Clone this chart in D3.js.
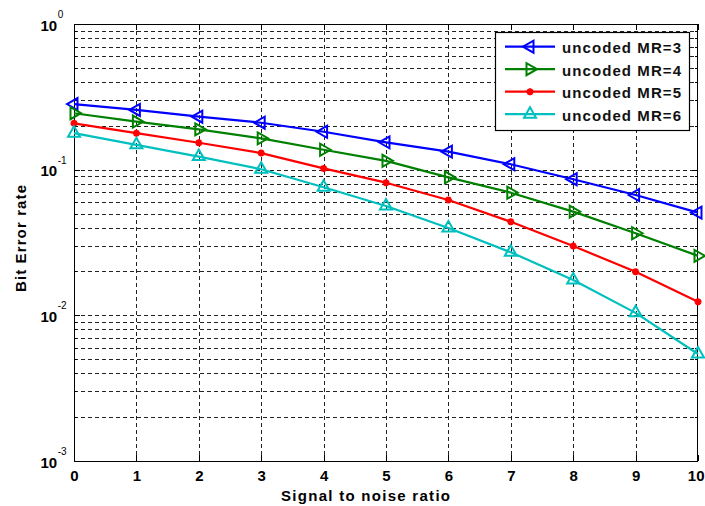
<!DOCTYPE html>
<html><head><meta charset="utf-8">
<script src="https://cdn.jsdelivr.net/npm/d3@7"></script>
<style>body{margin:0;background:#fff;} svg{display:block;}</style>
</head><body>
<svg id="chart" width="705" height="506"></svg>
<script>
// ---- data ----
const snr = [0, 1, 2, 3, 4, 5, 6, 7, 8, 9, 10];
const berMR3 = [0.282, 0.257, 0.231, 0.210, 0.182, 0.154, 0.133, 0.109, 0.086, 0.067, 0.0507];
const berMR4 = [0.244, 0.214, 0.189, 0.164, 0.137, 0.115, 0.0886, 0.0695, 0.0515, 0.0366, 0.0256];
const berMR5 = [0.208, 0.178, 0.153, 0.130, 0.102, 0.0814, 0.0619, 0.0439, 0.0299, 0.0199, 0.0124];
const berMR6 = [0.178, 0.148, 0.123, 0.1006, 0.0757, 0.0563, 0.0398, 0.0271, 0.0175, 0.0104, 0.00543];
const seriesNames = ["uncoded MR=3", "uncoded MR=4", "uncoded MR=5", "uncoded MR=6"];
const xTickValues = [0, 1, 2, 3, 4, 5, 6, 7, 8, 9, 10];
const yDecades = [1, 0.1, 0.01, 0.001];
const yExponents = ["0", "-1", "-2", "-3"];
const xLabel = "Signal to noise ratio";
const yLabel = "Bit Error rate";

// ---- styles ----
const colors = ["#0000ff", "#008000", "#ff0000", "#00bfbf"];
const markers = ["left", "right", "star", "up"];
const FONT = "'Liberation Sans', Arial, Helvetica, sans-serif";

const series = seriesNames.map((n, i) => ({
  name: n, values: [berMR3, berMR4, berMR5, berMR6][i], color: colors[i], marker: markers[i]
}));

const svg = d3.select("#chart");
const L = 74, R = 698, T = 24, B = 461;
const x = d3.scaleLinear().domain([0, 10]).range([L, R]);
const y = d3.scaleLog().domain([0.001, 1]).range([B, T]);

const minors = [];
[0.001, 0.01, 0.1].forEach(d => { for (let k = 2; k <= 9; k++) minors.push(k * d); });

// background
svg.append("rect").attr("x", 0).attr("y", 0).attr("width", 705).attr("height", 506).attr("fill", "#fff");

// grid
const grid = svg.append("g").attr("stroke", "#222").attr("stroke-width", 1).attr("stroke-dasharray", "4,3").attr("shape-rendering", "crispEdges");
grid.selectAll("line.h").data(minors.concat([0.1, 0.01])).join("line")
  .attr("x1", L).attr("x2", R).attr("y1", d => Math.round(y(d)) + 0.5).attr("y2", d => Math.round(y(d)) + 0.5);
grid.selectAll("line.v").data(xTickValues.filter(v => v > 0 && v < 10)).join("line")
  .attr("y1", T).attr("y2", B).attr("x1", d => Math.round(x(d)) + 0.5).attr("x2", d => Math.round(x(d)) + 0.5);

// axes (ticks inside)
function styleAxis(g) {
  g.select(".domain").remove();
  g.selectAll(".tick line").attr("stroke", "#000").attr("shape-rendering", "crispEdges");
}
svg.append("g").attr("transform", `translate(${L},0)`)
  .call(d3.axisLeft(y).tickValues(yDecades).tickSize(-6).tickFormat("")).call(styleAxis);
svg.append("g").attr("transform", `translate(${L},0)`)
  .call(d3.axisLeft(y).tickValues(minors).tickSize(-3).tickFormat("")).call(styleAxis);
svg.append("g").attr("transform", `translate(${R},0)`)
  .call(d3.axisRight(y).tickValues(yDecades).tickSize(-6).tickFormat("")).call(styleAxis);
svg.append("g").attr("transform", `translate(${R},0)`)
  .call(d3.axisRight(y).tickValues(minors).tickSize(-3).tickFormat("")).call(styleAxis);
svg.append("g").attr("transform", `translate(0,${T})`)
  .call(d3.axisTop(x).tickValues(xTickValues).tickSize(-6).tickFormat("")).call(styleAxis);
const xAx = svg.append("g").attr("transform", `translate(0,${B})`)
  .call(d3.axisBottom(x).tickValues(xTickValues).tickSize(-6).tickPadding(9).tickFormat(d3.format("d")));
styleAxis(xAx);
xAx.selectAll(".tick text").attr("font-family", FONT).attr("font-size", 15).attr("font-weight", "bold").attr("fill", "#000");
// keep the last label inside the window
xAx.selectAll(".tick text").filter(d => d === 10).attr("text-anchor", "end").attr("x", 6);

// y tick labels with superscripts
const yl = svg.append("g").attr("font-family", FONT).attr("fill", "#000");
yDecades.forEach((d, i) => {
  const t = yl.append("text").attr("x", 40.5).attr("y", y(d) + 6.5);
  t.append("tspan").attr("font-size", 15).attr("font-weight", "bold").text("10");
  t.append("tspan").attr("font-size", 10).attr("dx", 0.5).attr("dy", -12.5).text(yExponents[i]);
});

// frame
svg.append("rect").attr("x", L + 0.5).attr("y", T + 0.5).attr("width", R - L - 1).attr("height", B - T)
  .attr("fill", "none").attr("stroke", "#000").attr("stroke-width", 1.2).attr("shape-rendering", "crispEdges");

// markers
function markerPath(type) {
  switch (type) {
    case "left": return "M-7,0L3.5,-6L3.5,6Z";
    case "right": return "M7,0L-3.5,-6L-3.5,6Z";
    case "up": return "M0,-7L-6,3.5L6,3.5Z";
    case "star": return "M-3.5,0L3.5,0M0,-3.5L0,3.5M-2.5,-2.5L2.5,2.5M-2.5,2.5L2.5,-2.5";
  }
}

const line = d3.line().x((d, i) => x(snr[i])).y(d => y(d));
const sg = svg.selectAll("g.series").data(series).join("g").attr("class", "series");
sg.append("path").attr("d", d => line(d.values)).attr("fill", "none")
  .attr("stroke", d => d.color).attr("stroke-width", 2.2).attr("stroke-linejoin", "round");
sg.each(function (s) {
  d3.select(this).selectAll("path.m").data(s.values).join("path").attr("class", "m")
    .attr("transform", (d, i) => `translate(${x(snr[i])},${y(d)})`)
    .attr("d", markerPath(s.marker))
    .attr("fill", s.marker === "star" ? s.color : "none")
    .attr("stroke", s.color).attr("stroke-width", s.marker === "star" ? 2.2 : 2);
});

// legend
const lg = svg.append("g");
lg.append("rect").attr("x", 495.5).attr("y", 32.5).attr("width", 194).attr("height", 98)
  .attr("fill", "#fff").attr("stroke", "#000").attr("stroke-width", 1.2);
const rows = lg.selectAll("g.row").data(series).join("g").attr("class", "row")
  .attr("transform", (d, i) => `translate(0,${46.7 + i * 22.5})`);
rows.append("line").attr("x1", 505).attr("x2", 555).attr("stroke", d => d.color).attr("stroke-width", 2.2);
rows.append("path").attr("transform", "translate(530,0)").attr("d", d => markerPath(d.marker))
  .attr("fill", d => d.marker === "star" ? d.color : "none").attr("stroke", d => d.color)
  .attr("stroke-width", d => d.marker === "star" ? 2.2 : 2);
rows.append("text").attr("x", 562).attr("y", 6.5).attr("font-family", FONT).attr("font-size", 15)
  .attr("font-weight", "bold").attr("fill", "#111").attr("textLength", 119).attr("lengthAdjust", "spacing")
  .text(d => d.name);

// axis labels
svg.append("text").attr("x", 281).attr("y", 501).attr("font-family", FONT).attr("font-size", 15)
  .attr("font-weight", "bold").attr("fill", "#000").attr("textLength", 169).attr("lengthAdjust", "spacing")
  .text(xLabel);
svg.append("text").attr("transform", "translate(26,292) rotate(-90)").attr("font-family", FONT).attr("font-size", 15)
  .attr("font-weight", "bold").attr("fill", "#000").attr("textLength", 107).attr("lengthAdjust", "spacing")
  .text(yLabel);
</script>
</body></html>
